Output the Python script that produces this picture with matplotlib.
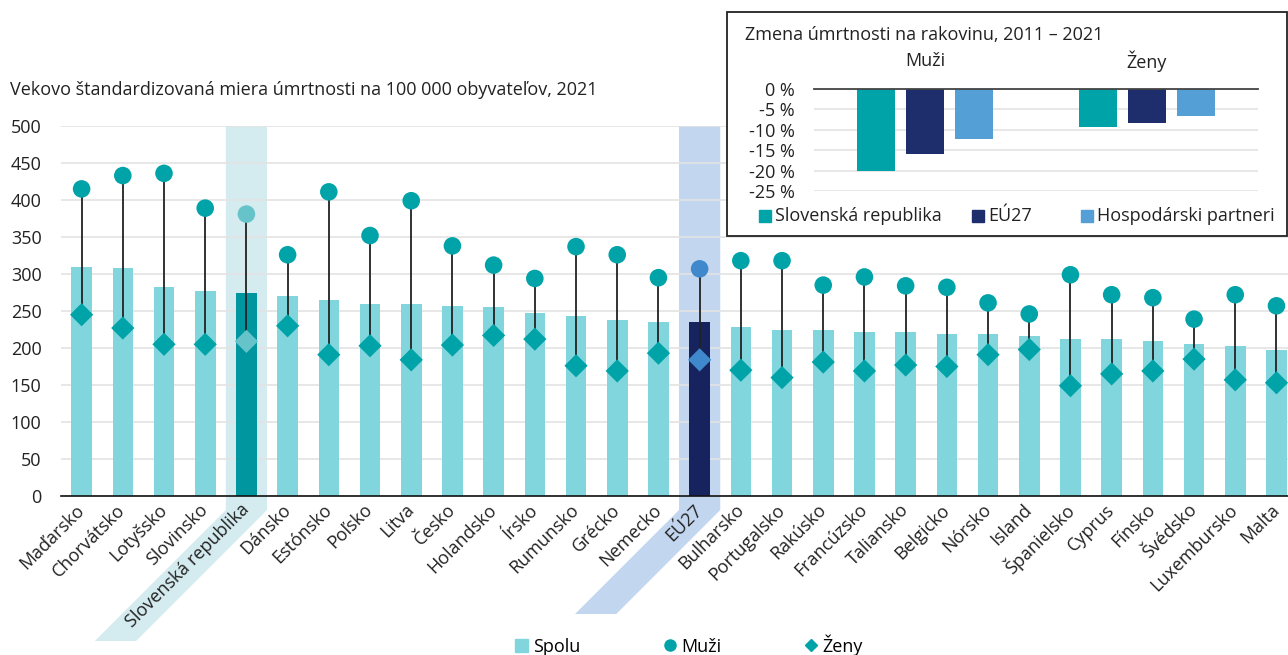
import numpy as np
import matplotlib.pyplot as plt
from matplotlib.patches import Patch, Polygon, Rectangle
from matplotlib.lines import Line2D
from matplotlib.transforms import IdentityTransform

plt.rcParams['font.family'] = ['Open Sans', 'DejaVu Sans']

# data
countries = ['Maďarsko', 'Chorvátsko', 'Lotyšsko', 'Slovinsko', 'Slovenská republika',
             'Dánsko', 'Estónsko', 'Poľsko', 'Litva', 'Česko', 'Holandsko', 'Írsko',
             'Rumunsko', 'Grécko', 'Nemecko', 'EÚ27', 'Bulharsko', 'Portugalsko',
             'Rakúsko', 'Francúzsko', 'Taliansko', 'Belgicko', 'Nórsko', 'Island',
             'Španielsko', 'Cyprus', 'Fínsko', 'Švédsko', 'Luxembursko', 'Malta']
spolu = [309, 308, 283, 277, 274, 270, 265, 260, 259, 257, 255, 247, 243, 238, 235, 235,
         229, 225, 224, 222, 221, 219, 219, 216, 212, 212, 209, 206, 203, 197]
muzi = [415, 433, 436, 389, 381, 326, 411, 352, 399, 338, 312, 294, 337, 326, 295, 307,
        318, 318, 285, 296, 284, 282, 261, 246, 299, 272, 268, 239, 272, 257]
zeny = [245, 227, 205, 205, 209, 230, 191, 203, 184, 204, 217, 212, 176, 169, 193, 184,
        170, 160, 181, 169, 177, 175, 191, 198, 149, 165, 169, 185, 157, 153]

inset_groups = ['Muži', 'Ženy']
inset_series = ['Slovenská republika', 'EÚ27', 'Hospodárski partneri']
inset_sk = [-20.0, -9.3]
inset_eu = [-16.0, -8.4]
inset_hp = [-12.3, -6.6]

W, H = 1288, 655
FS = 13
fig = plt.figure(figsize=(W / 100, H / 100), dpi=100)


def px(x0, y0, x1, y1):
    return [x0 / W, 1 - y1 / H, (x1 - x0) / W, (y1 - y0) / H]


LIGHT = '#80d6dc'
TEAL = '#00a3a8'
SK_BAR = '#00969f'
SK_DOT = '#66c3ca'
EU_BAR = '#17235f'
EU_DOT = '#3f88cc'
SK_BAND = '#d4ebef'
EU_BAND = '#c3d6ef'
INSET_COLS = ['#00a3a8', '#1e2d6b', '#549fd6']

ax = fig.add_axes(px(61, 126, 1288, 496))
x = np.arange(len(countries))
i_sk = countries.index('Slovenská republika')
i_eu = countries.index('EÚ27')

bar_cols = [LIGHT] * len(countries)
dot_cols = [TEAL] * len(countries)
bar_cols[i_sk], dot_cols[i_sk] = SK_BAR, SK_DOT
bar_cols[i_eu], dot_cols[i_eu] = EU_BAR, EU_DOT

ax.set_xlim(-0.5, 29.28)
ax.set_ylim(0, 500)

ax.bar(x, spolu, width=0.5, color=bar_cols, zorder=2)
ax.vlines(x, zeny, muzi, color='#222222', lw=1.3, zorder=3)
ax.scatter(x, muzi, s=160, marker='o', c=dot_cols, zorder=4, linewidths=0)
ax.scatter(x, zeny, s=140, marker='D', c=dot_cols, zorder=4, linewidths=0)

ax.set_yticks(np.arange(0, 501, 50))
ax.yaxis.grid(True, color='#e3e3e3', lw=1.2, zorder=0)
ax.set_axisbelow(True)
ax.tick_params(axis='y', length=0, pad=14, labelsize=FS, colors='#222222')
ax.tick_params(axis='x', length=0, pad=8)
for s in ['top', 'right', 'left']:
    ax.spines[s].set_visible(False)
ax.spines['bottom'].set_color('#111111')
ax.spines['bottom'].set_linewidth(1.2)
ax.spines['bottom'].set_zorder(5)
ax.set_xticks(x)
ax.set_xticklabels(countries, rotation=45, ha='right', va='center',
                   rotation_mode='anchor', fontsize=FS, color='#222222')

# highlight bands, extending diagonally under the labels
fig.canvas.draw()
tr = ax.transData
for idx, col, drop in [(i_sk, SK_BAND, 131), (i_eu, EU_BAND, 104)]:
    xl, ytop = tr.transform((idx - 0.5, 500))
    xr, ybot = tr.transform((idx + 0.5, 0))
    yk = ybot - 14
    pts = [(xl, ytop), (xr, ytop), (xr, yk), (xr - drop, yk - drop),
           (xl - drop, yk - drop), (xl, yk)]
    ax.add_patch(Polygon(pts, closed=True, color=col, transform=IdentityTransform(),
                         zorder=0.5, clip_on=False, lw=0))

fig.text(10 / W, 1 - 90 / H, 'Vekovo štandardizovaná miera úmrtnosti na 100 000 obyvateľov, 2021',
         fontsize=FS, va='center', ha='left', color='#222222')

handles = [Patch(color=LIGHT, label='Spolu'),
           Line2D([], [], ls='none', marker='o', ms=8, color=TEAL, label='Muži'),
           Line2D([], [], ls='none', marker='D', ms=6.5, color=TEAL, label='Ženy')]
fig.legend(handles=handles, loc='center', bbox_to_anchor=(689 / W, 1 - 645 / H), ncol=3,
           frameon=False, fontsize=FS, handlelength=0.7, handleheight=0.7,
           handletextpad=0.3, columnspacing=4.6, borderaxespad=0, borderpad=0)

# inset: change 2011-2021
fig.patches.append(Rectangle((727 / W, 1 - 236 / H), 560 / W, 224 / H, transform=fig.transFigure,
                             facecolor='white', edgecolor='#222222', lw=1.3, zorder=5, figure=fig))
ia = fig.add_axes(px(814, 89, 1258, 191))
ia.set_zorder(6)
ia.patch.set_alpha(0)
g = np.arange(len(inset_groups))
off = 0.22
bw = 0.17
for k, vals in enumerate([inset_sk, inset_eu, inset_hp]):
    ia.bar(g + (k - 1) * off, vals, width=bw, color=INSET_COLS[k], zorder=3)
ia.set_xlim(-0.5, 1.5)
ia.set_ylim(-25, 0)
ia.set_yticks([0, -5, -10, -15, -20, -25])
ia.set_yticklabels(['0 %', '-5 %', '-10 %', '-15 %', '-20 %', '-25 %'])
ia.yaxis.grid(True, color='#e3e3e3', lw=1.2)
ia.axhline(0, color='#444444', lw=1.3, zorder=4, clip_on=False)
ia.set_xticks([])
ia.tick_params(axis='y', length=0, pad=14, labelsize=FS, colors='#222222')
for s in ia.spines.values():
    s.set_visible(False)
for gi, name in zip(g, inset_groups):
    ia.text(gi, 1.27, name, transform=ia.get_xaxis_transform(), ha='center', va='center',
            fontsize=FS, color='#222222')
fig.text(745 / W, 1 - 35 / H, 'Zmena úmrtnosti na rakovinu, 2011 – 2021', fontsize=FS,
         va='center', ha='left', color='#222222', zorder=7)

# inset legend, placed by hand like the original
for xs, col, lab in zip([759, 972, 1081], INSET_COLS, inset_series):
    fig.patches.append(Rectangle((xs / W, 1 - 222 / H), 12 / W, 12 / H, transform=fig.transFigure,
                                 color=col, zorder=7, figure=fig))
    fig.text((xs + 16) / W, 1 - 216 / H, lab, fontsize=FS, va='center', ha='left',
             color='#222222', zorder=7)

fig.savefig('out.png', dpi=100)
